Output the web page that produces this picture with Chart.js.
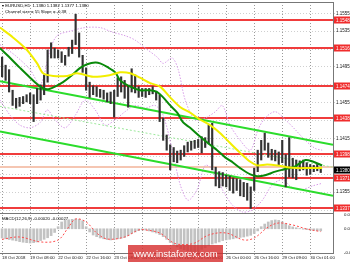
<!DOCTYPE html>
<html>
<head>
<meta charset="utf-8">
<script src="https://cdn.jsdelivr.net/npm/chart.js@4.4.1/dist/chart.umd.min.js"></script>
<style>
  html, body { margin: 0; padding: 0; background: #fff; }
  #wrap { position: relative; width: 350px; height: 262px; overflow: hidden; }
  #wm {
    position: absolute; left: 128px; top: 245px; width: 95px; height: 17px;
    background: rgba(214, 44, 44, 0.8); color: #fff;
    font: 9.5px "Liberation Sans", Arial, sans-serif; line-height: 17px; text-align: center;
  }
</style>
</head>
<body>
<div id="wrap">
  <canvas id="chart" width="350" height="262"></canvas>
  <div id="wm">www.instaforex.com</div>
</div>
<script>
// time axis (one bar = 2 hours)
const timeLabels = ['18 Oct 2018', '19 Oct 08:00', '22 Oct 00:00', '22 Oct 16:00', '23 Oct 08:00', '24 Oct 00:00',
  '24 Oct 16:00', '25 Oct 08:00', '26 Oct 00:00', '26 Oct 16:00', '29 Oct 09:00', '30 Oct 01:00'];
const labelBars = [0, 8, 16, 24, 32, 40, 48, 56, 64, 72, 80, 88];

const priceTicks = [1.1335, 1.1355, 1.1375, 1.1395, 1.1415, 1.1435, 1.1455, 1.1475, 1.1495, 1.1515, 1.1535, 1.1555];
const priceTickLabels = ['1.1555', '1.1535', '1.1495', '1.1455', '1.1415', '1.1355'];
const macdTicks = [-0.0023, 0, 0.00131];
const macdTickLabels = ['-0.0023', '0.00', '0.00131'];

// EURUSD candles
const highs = [
  1.1506, 1.1497, 1.1492, 1.1469, 1.1460, 1.1461, 1.1462, 1.1464, 1.1466, 1.1464,
  1.1471, 1.1475, 1.1486, 1.1514, 1.1522, 1.1516, 1.1514, 1.1512, 1.1508, 1.1517,
  1.1525, 1.1554, 1.1533, 1.1508, 1.1494, 1.1478, 1.1474, 1.1473, 1.1470, 1.1469,
  1.1466, 1.1467, 1.1469, 1.1483, 1.1484, 1.1480, 1.1474, 1.1493, 1.1486, 1.1473,
  1.1471, 1.1471, 1.1471, 1.1473, 1.1468, 1.1464, 1.1438, 1.1419, 1.1408, 1.1405,
  1.1401, 1.1402, 1.1407, 1.1411, 1.1412, 1.1413, 1.1414, 1.1417, 1.1416, 1.1430,
  1.1432, 1.1383, 1.1378, 1.1377, 1.1374, 1.1373, 1.1371, 1.1370, 1.1369, 1.1366,
  1.1365, 1.1361, 1.1382, 1.1402, 1.1413, 1.1421, 1.1410, 1.1403, 1.1402, 1.1400,
  1.1413, 1.1397, 1.1416, 1.1393, 1.1391, 1.1390, 1.1391, 1.1388, 1.1386, 1.1385,
  1.1386, 1.1383];
const lows = [
  1.1484, 1.1480, 1.1467, 1.1452, 1.1449, 1.1451, 1.1454, 1.1456, 1.1454, 1.1434,
  1.1454, 1.1458, 1.1464, 1.1478, 1.1505, 1.1505, 1.1505, 1.1500, 1.1497, 1.1507,
  1.1510, 1.1520, 1.1506, 1.1489, 1.1469, 1.1461, 1.1464, 1.1462, 1.1461, 1.1459,
  1.1456, 1.1454, 1.1439, 1.1462, 1.1467, 1.1460, 1.1450, 1.1467, 1.1466, 1.1461,
  1.1462, 1.1461, 1.1464, 1.1465, 1.1458, 1.1434, 1.1413, 1.1402, 1.1380, 1.1389,
  1.1388, 1.1391, 1.1395, 1.1400, 1.1402, 1.1404, 1.1405, 1.1399, 1.1405, 1.1409,
  1.1380, 1.1362, 1.1360, 1.1362, 1.1361, 1.1357, 1.1354, 1.1357, 1.1351, 1.1350,
  1.1346, 1.1337, 1.1357, 1.1378, 1.1391, 1.1402, 1.1394, 1.1391, 1.1390, 1.1385,
  1.1388, 1.1361, 1.1372, 1.1371, 1.1369, 1.1379, 1.1380, 1.1374, 1.1375, 1.1378,
  1.1379, 1.1377];
const ohlcNow = [1.1380, 1.1382, 1.1377, 1.1380];
const lastPrice = 1.1380;
const askPrice = 1.1383;

// support / resistance levels
const levels = [1.1548, 1.1516, 1.1474, 1.1438, 1.1398, 1.1371, 1.1337];

// moving averages
const yellowBars = [-0.6, 3.1, 7.1, 10, 11.7, 14.6, 18.6, 21.4, 26, 30.9, 33.7, 36.6, 39.4, 42.3, 45.1, 48,
  50.9, 53.7, 56.6, 59.4, 62.3, 65.1, 68, 70.9, 72.9, 75.7, 78.6, 81.4, 84.3, 87.1, 90, 91.4];
const yellowMa = [1.1539, 1.1528, 1.1514, 1.1499, 1.1488, 1.1485, 1.1485, 1.1488, 1.1484, 1.1486, 1.1489,
  1.1488, 1.1483, 1.1477, 1.1473, 1.1461, 1.1450, 1.1444, 1.1436, 1.1430, 1.1421, 1.1410, 1.1399, 1.1389,
  1.1385, 1.1386, 1.1385, 1.1383, 1.1382, 1.1382, 1.1382, 1.1382];
const greenBars = [-0.6, 2.3, 5.1, 8, 10.9, 12.9, 15.1, 17.4, 19.4, 22.3, 24.3, 26.6, 28, 30, 32.3, 33.7,
  36.6, 39.4, 42.3, 44.3, 46, 48, 50, 51.7, 53.7, 56.6, 59.4, 61.4, 63.7, 66, 68, 70.9, 72.9, 75.1, 78,
  80.9, 83.7, 86.6, 88.9, 91.4];
const greenMa = [1.1516, 1.1505, 1.1494, 1.1483, 1.1473, 1.1470, 1.1473, 1.1478, 1.1484, 1.1494, 1.1498,
  1.1500, 1.1499, 1.1495, 1.1489, 1.1480, 1.1473, 1.1469, 1.1469, 1.1467, 1.1461, 1.1452, 1.1444, 1.1433,
  1.1427, 1.1417, 1.1408, 1.1402, 1.1394, 1.1388, 1.1382, 1.1375, 1.1373, 1.1374, 1.1378, 1.1381, 1.1384,
  1.1391, 1.1389, 1.1385];

// dotted envelope bands
const upperBars = [-0.6, 3.7, 8, 10.9, 13.7, 15.7, 19.4, 23.7, 28, 31.4, 35.1, 38, 40.9, 44.3, 46, 48.6,
  50.3, 52.3, 55.1, 58, 60.9, 62.9, 65.1, 68, 70.9, 73.1, 75.1, 78, 80.9, 83.7, 86.6, 89.4, 91.4];
const bandUpper = [1.1520, 1.1508, 1.1492, 1.1475, 1.1514, 1.1530, 1.1535, 1.1539, 1.1539, 1.1534, 1.1530,
  1.1525, 1.1516, 1.1506, 1.1499, 1.1505, 1.1492, 1.1458, 1.1436, 1.1438, 1.1445, 1.1452, 1.1430, 1.1413,
  1.1402, 1.1425, 1.1438, 1.1445, 1.1436, 1.1425, 1.1413, 1.1404, 1.1402];
const lowerBars = [-0.6, 2.3, 5.1, 8, 10.9, 12.9, 15.1, 18, 20.9, 23.7, 26.6, 29.4, 32.3, 35.1, 38, 40.9,
  43.7, 46, 48.6, 50.9, 53.1, 55.7, 58, 60.3, 62.9, 65.7, 68.6, 71.4, 74.3, 77.1, 80, 82.9, 85.7, 88.6, 91.4];
const bandLower = [1.1458, 1.1441, 1.1430, 1.1427, 1.1433, 1.1447, 1.1436, 1.1427, 1.1441, 1.1458, 1.1447,
  1.1430, 1.1436, 1.1445, 1.1452, 1.1449, 1.1452, 1.1441, 1.1402, 1.1363, 1.1346, 1.1358, 1.1385, 1.1380,
  1.1358, 1.1341, 1.1333, 1.1335, 1.1346, 1.1363, 1.1369, 1.1360, 1.1358, 1.1362, 1.1365];

// descending channel (start / end)
const channelBars = [-0.6, 94.5];
const channelUpper = [1.1479, 1.1408];
const channelMid = [1.1451, 1.1383];
const channelLower = [1.1423, 1.1351];

// MACD(12,26,9)
const macdHist = [
  -0.00088, -0.00095, -0.00102, -0.00108, -0.00114, -0.00122, -0.00128, -0.00132, -0.00135, -0.00132,
  -0.00125, -0.00112, -0.00100, -0.00085, -0.00065, -0.00035, 0.00020, 0.00065, 0.00080, 0.00086,
  0.00090, 0.00093, 0.00090, 0.00076, 0.00020, -0.00030, -0.00059, -0.00075, -0.00087, -0.00095,
  -0.00102, -0.00106, -0.00100, -0.00095, -0.00090, -0.00082, -0.00065, -0.00045, -0.00030, -0.00018,
  -0.00010, -0.00012, -0.00020, -0.00030, -0.00040, -0.00055, -0.00075, -0.00100, -0.00130, -0.00155,
  -0.00172, -0.00188, -0.00198, -0.00208, -0.00215, -0.00220, -0.00212, -0.00195, -0.00180, -0.00162,
  -0.00145, -0.00135, -0.00125, -0.00112, -0.00105, -0.00100, -0.00095, -0.00088, -0.00082, -0.00078,
  -0.00070, -0.00062, -0.00045, -0.00020, 0.00020, 0.00045, 0.00065, 0.00078, 0.00084, 0.00080,
  0.00066, 0.00048, 0.00030, 0.00018, 0.00010, 0.00002, -0.00004, -0.00008, -0.00012, -0.00015,
  -0.00018, -0.00020];
const signalBars = [0, 5, 11, 16, 19, 21, 24, 27, 30, 35, 39, 41, 45, 49, 52, 55, 59, 64, 69, 72, 76, 79, 83, 87, 91];
const signalVals = [-0.00100, -0.00078, -0.00125, -0.00106, 0.00017, 0.00093, 0.00065, -0.00040, -0.00097,
  -0.00078, -0.00011, -0.00011, -0.00040, -0.00135, -0.00150, -0.00135, -0.00059, -0.00040, -0.00106,
  -0.00087, 0.00017, 0.00055, 0.00036, -0.00002, -0.00027];

const pts = (xs, ys) => xs.map((x, i) => ({ x: x, y: ys[i] }));
const FONT = '"Liberation Sans", Arial, sans-serif';

function hline(ctx, x1, x2, y) {
    ctx.beginPath();
    ctx.moveTo(x1, y);
    ctx.lineTo(x2, y);
    ctx.stroke();
}

function tag(ctx, x, y, text, bg) {
    ctx.fillStyle = bg;
    ctx.fillRect(x, Math.round(y) - 3.5, 20, 7);
    ctx.fillStyle = '#fff';
    ctx.fillText(text, x + 2, Math.round(y) + 0.5);
}

const mtDecor = {
    id: 'mtDecor',
    beforeDatasetsDraw(chart) {
        const { ctx, chartArea: { left, right }, scales: { y } } = chart;
        ctx.save();
        ctx.lineWidth = 2;
        ctx.strokeStyle = '#f5c6b2';
        hline(ctx, left, right, Math.round(y.getPixelForValue(askPrice)));
        ctx.strokeStyle = '#f03c3c';
        levels.forEach(v => hline(ctx, left, right, Math.round(y.getPixelForValue(v))));
        ctx.restore();
    },
    afterDraw(chart) {
        const { ctx, chartArea: { left, top, right }, scales: { y, macd } } = chart;
        ctx.save();
        ctx.strokeStyle = '#777';
        ctx.lineWidth = 1;
        hline(ctx, left, right, top + 0.5);
        hline(ctx, left, right, Math.round(macd.top) + 0.5);

        ctx.font = '4.5px ' + FONT;
        ctx.textBaseline = 'middle';
        levels.forEach(v => tag(ctx, right + 1, y.getPixelForValue(v), v.toFixed(4), '#f02c2c'));
        tag(ctx, right + 1, y.getPixelForValue(lastPrice), lastPrice.toFixed(4), '#000');

        ctx.fillStyle = '#000';
        ctx.textBaseline = 'alphabetic';
        ctx.font = '4.3px ' + FONT;
        ctx.fillText('\u25BE EURUSD,H1  ' + ohlcNow.map(v => v.toFixed(4)).join(' '), 2, 7);
        ctx.fillText('Channel size = 55 Slope = -0.38', 5, 13);
        ctx.fillText('MACD(12,26,9) -0.00020 -0.00027', 2, Math.round(macd.top) + 7);
        ctx.restore();
    }
};

const lineDs = (data, color, width, order, dash) => ({
    type: 'line', data: data, yAxisID: 'y', borderColor: color, borderWidth: width,
    borderDash: dash || [], pointRadius: 0, tension: 0.3, fill: false, order: order
});

new Chart(document.getElementById('chart'), {
    type: 'bar',
    data: {
        datasets: [
            {
                type: 'line', data: pts(signalBars, signalVals), yAxisID: 'macd',
                borderColor: '#ff4a4a', borderWidth: 1, borderDash: [2, 2],
                pointRadius: 0, tension: 0.35, order: 0
            },
            lineDs(pts(yellowBars, yellowMa), '#f2ee00', 2, 1),
            lineDs(pts(greenBars, greenMa), '#0a8a0a', 2, 2),
            {
                type: 'bar', data: highs.map((h, i) => ({ x: i, y: [lows[i], h] })), yAxisID: 'y',
                backgroundColor: '#333333', barThickness: 1.5, grouped: false, order: 3
            },
            lineDs(pts(channelBars, channelUpper), '#2bdc2b', 2, 4),
            lineDs(pts(channelBars, channelLower), '#2bdc2b', 2, 4),
            lineDs(pts(channelBars, channelMid), '#9be89b', 1, 4, [2, 2]),
            lineDs(pts(upperBars, bandUpper), '#d79ce8', 1, 5, [1.5, 1.5]),
            lineDs(pts(lowerBars, bandLower), '#d79ce8', 1, 5, [1.5, 1.5]),
            {
                type: 'bar', data: macdHist.map((v, i) => ({ x: i, y: v })), yAxisID: 'macd',
                backgroundColor: '#c2c2c2', barThickness: 2, grouped: false, order: 6
            }
        ]
    },
    options: {
        responsive: false,
        animation: false,
        events: [],
        devicePixelRatio: 1,
        layout: { padding: { top: 2, left: 0, right: 0, bottom: 0 } },
        plugins: { legend: { display: false }, tooltip: { enabled: false } },
        scales: {
            x: {
                type: 'linear', min: -0.6, max: 94.5, offset: false,
                grid: { color: '#9a9a9a', offset: false, tickLength: 2 },
                border: { color: '#777', dash: [1, 2] },
                ticks: {
                    align: 'start', autoSkip: false, maxRotation: 0, minRotation: 0, padding: 0,
                    color: '#111', font: { size: 4.3, family: FONT },
                    callback: (v, i) => timeLabels[i]
                },
                afterBuildTicks: s => { s.ticks = labelBars.map(v => ({ value: v })); },
                afterFit: s => { s.height = 9; s.paddingLeft = 0; s.paddingRight = 0; }
            },
            y: {
                type: 'linear', position: 'right', stack: 'panes', stackWeight: 211,
                min: 1.13318, max: 1.15676,
                grid: { color: '#cfcfcf', tickLength: 2 },
                border: { color: '#777', dash: [1, 2] },
                ticks: {
                    padding: 1, color: '#111', font: { size: 4.5, family: FONT, lineHeight: 1 },
                    callback: v => { const t = v.toFixed(4); return priceTickLabels.includes(t) ? t : ''; }
                },
                afterBuildTicks: s => { s.ticks = priceTicks.map(v => ({ value: v })); },
                afterFit: s => { s.width = 17; s.paddingTop = 0; s.paddingBottom = 0; }
            },
            macd: {
                type: 'linear', position: 'right', stack: 'panes', stackWeight: 40,
                min: -0.0023, max: 0.0015,
                grid: { display: false },
                border: { color: '#777' },
                ticks: {
                    padding: 3, color: '#111', font: { size: 4.3, family: FONT, lineHeight: 1 },
                    callback: (v, i) => macdTickLabels[i]
                },
                afterBuildTicks: s => { s.ticks = macdTicks.map(v => ({ value: v })); },
                afterFit: s => { s.width = 17; s.paddingTop = 0; s.paddingBottom = 0; }
            }
        }
    },
    plugins: [mtDecor]
});
</script>
</body>
</html>
